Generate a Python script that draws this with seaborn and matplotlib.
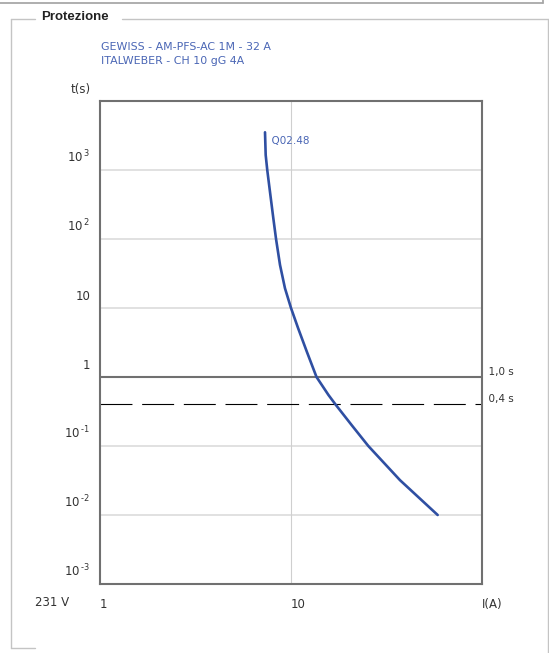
import matplotlib
matplotlib.use("Agg")
import matplotlib.pyplot as plt
import matplotlib.transforms as mtransforms
from matplotlib.lines import Line2D
import seaborn as sns
import pandas as pd

# ---- data ----
current_A = [7.31, 7.37, 7.51, 7.76, 8.08, 8.35, 8.76, 9.30, 10.0, 10.9, 12.1,
             13.6, 15.7, 17.1, 20.8, 25.4, 37.2, 58.6]
time_s = [3520, 1650, 1000, 485, 200, 100, 42, 19.3, 10, 5.08, 2.33,
          1.0, 0.55, 0.4, 0.2, 0.1, 0.032, 0.01]
curve_name = "Q02.48"
legend_lines = ["GEWISS - AM-PFS-AC 1M - 32 A", "ITALWEBER - CH 10 gG 4A"]
ref_times = [1.0, 0.4]
ref_labels = ["1,0 s", "0,4 s"]
y_ticks = [1e-3, 1e-2, 1e-1, 1, 10, 100, 1e3, 1e4]
y_ticklabels = ["$10^{\\,\u20103}$", "$10^{\\,\u20102}$", "$10^{\\,\u20101}$", "1", "10",
                "$10^{\\,2}$", "$10^{\\,3}$", "t(s)"]
x_ticks = [1, 10, 100]
x_ticklabels = ["1", "10", "I(A)"]
voltage_label = "231 V"
title = "Protezione"

df = pd.DataFrame({"I": current_A, "t": time_s})

sns.set_style("white")
plt.rcParams["font.family"] = ["DejaVu Sans"]
plt.rcParams["mathtext.fontset"] = "dejavusans"
plt.rcParams["mathtext.default"] = "regular"
plt.rcParams["lines.scale_dashes"] = False

W, H = 549, 653
fig = plt.figure(figsize=(W / 100, H / 100), dpi=100)
L, R, T, B = 100, 482, 101, 584
ax = fig.add_axes([L / W, 1 - B / H, (R - L) / W, (B - T) / H])

spine_c = "#707070"
grid_c = "#dedede"
blue = "#2f4fa2"
text_blue = "#4a66b5"

ax.set_xscale("log")
ax.set_yscale("log")
ax.set_xlim(1, 100)
ax.set_ylim(1e-3, 1e4)

# grid lines
for yv in [1e-2, 1e-1, 10, 100, 1e3]:
    ax.axhline(yv, color=grid_c, lw=1.3, zorder=1)
ax.axvline(10, color="#cfcfcf", lw=0.8, zorder=1)

# reference lines
ax.axhline(ref_times[0], color=spine_c, lw=1.5, zorder=2)
ax.axhline(ref_times[1], color="black", lw=0.8, dashes=(23, 7), zorder=2)

sns.lineplot(data=df, x="I", y="t", ax=ax, color=blue, lw=1.9,
             sort=False, estimator=None, zorder=4)
ax.set_xlabel("")
ax.set_ylabel("")

down = mtransforms.ScaledTranslation(0, -4 / 100, fig.dpi_scale_trans)
ax.text(current_A[0], time_s[0], "  " + curve_name, color=text_blue,
        fontsize=7.5, ha="left", va="top", zorder=5,
        transform=ax.transData + down)

for v, lab in zip(ref_times, ref_labels):
    ax.text(1.0, v, "  " + lab, transform=ax.get_yaxis_transform(),
            fontsize=7.5, color="#333333", ha="left", va="bottom")

for s in ax.spines.values():
    s.set_color(spine_c)
    s.set_linewidth(1.5)
    s.set_visible(True)

ax.set_yticks(y_ticks)
ax.set_yticklabels(y_ticklabels)
ax.set_xticks(x_ticks)
ax.set_xticklabels(x_ticklabels)
ax.minorticks_off()
ax.tick_params(axis="both", which="major", length=5, width=1, color="#333333",
               labelsize=8.5, labelcolor="#333333", direction="out")
ax.tick_params(axis="y", pad=2)
ax.tick_params(axis="x", pad=5)

up = mtransforms.ScaledTranslation(0, 5 / 100, fig.dpi_scale_trans)
for lab in ax.get_yticklabels():
    lab.set_transform(lab.get_transform() + up)
    lab.set_verticalalignment("bottom")
for lab in ax.get_xticklabels():
    lab.set_horizontalalignment("left")

# figure-level texts
def fx(px):
    return px / W

def fy(py):
    return 1 - py / H

fig.text(fx(35), fy(602), voltage_label, fontsize=8.5, color="#333333",
         ha="left", va="center")
fig.text(fx(101), fy(47), legend_lines[0], fontsize=7.9, color=text_blue,
         ha="left", va="center")
fig.text(fx(101), fy(61), legend_lines[1], fontsize=7.9, color=text_blue,
         ha="left", va="center")
fig.text(fx(41), fy(17), title, fontsize=9.5, fontweight="bold",
         family=["Liberation Sans"], color="#222222", ha="left", va="center")

frame_c = "#c4c4c4"
segs = [
    ([0, 543], [3, 3], "#a8a8a8", 1.3),
    ([543, 543], [0, 3], "#a8a8a8", 1.3),
    ([11, 35], [19, 19], frame_c, 1.0),
    ([122, 548], [19, 19], frame_c, 1.0),
    ([11, 11], [19, 648], frame_c, 1.0),
    ([11, 35], [648, 648], frame_c, 1.0),
    ([548, 548], [19, 653], frame_c, 1.0),
]
for xs, ys, c, lw in segs:
    fig.add_artist(Line2D([fx(x) for x in xs], [fy(y) for y in ys],
                          color=c, lw=lw, transform=fig.transFigure))

fig.savefig("out.png", dpi=100)
